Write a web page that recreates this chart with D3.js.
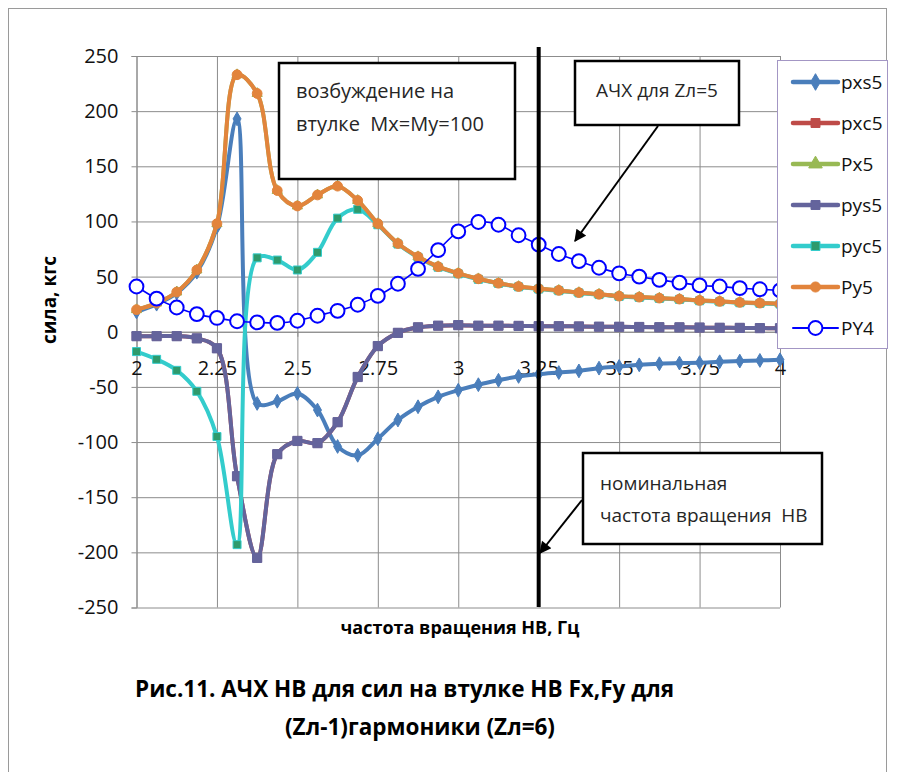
<!DOCTYPE html>
<html>
<head>
<meta charset="utf-8">
<script src="https://cdn.jsdelivr.net/npm/d3@7"></script>
<style>
    body { margin: 0; background: #fff; }
    text { font-family: "Open Sans", "Noto Sans", sans-serif; }
</style>
</head>
<body>
<div id="chart-area"></div>
<script>

// frequency grid, Hz
const freqs = [2, 2.0625, 2.125, 2.1875, 2.25, 2.3125, 2.375, 2.4375, 2.5, 2.5625, 2.625, 2.6875,
    2.75, 2.8125, 2.875, 2.9375, 3, 3.0625, 3.125, 3.1875, 3.25, 3.3125, 3.375, 3.4375,
    3.5, 3.5625, 3.625, 3.6875, 3.75, 3.8125, 3.875, 3.9375, 4];

// series values, kgf
const pxs5 = [18, 25, 35, 54, 95, 193, -65, -63, -56, -71, -104, -112, -97, -80, -68, -59, -53,
    -48, -44, -40.5, -38.5, -37, -35.5, -33, -31.5, -30, -29, -28.4, -28, -27.2, -26.6, -26, -25.4];
const pxc5 = [-4, -4, -4, -6, -15, -131, -205, -111, -99, -101, -82, -41, -13, -1, 4, 5.5, 6,
    5.5, 5.5, 5.3, 5, 5, 4.8, 4.6, 4.5, 4.3, 4.1, 4, 3.8, 3.6, 3.5, 3.3, 3.2];
const Px5 = [20, 26, 36, 56, 98, 233, 216, 128, 114, 124, 132, 119, 98, 80, 68, 59, 53,
    48, 44, 41, 39, 37.5, 35.5, 34, 32.3, 31.4, 30.5, 29.6, 28.4, 27.5, 26.6, 26, 25.4];
const pys5 = [-4, -4, -4, -6, -15, -131, -205, -111, -99, -101, -82, -41, -13, -1, 4, 5.5, 6,
    5.5, 5.5, 5.3, 5, 5, 4.8, 4.6, 4.5, 4.3, 4.1, 4, 3.8, 3.6, 3.5, 3.3, 3.2];
const pyc5 = [-18, -25, -35, -54, -95, -193, 67, 65, 56, 72, 103, 111, 97, 79.5, 67.5, 58.5, 52.5,
    47.5, 43.8, 40.7, 38.7, 37.2, 35.2, 33.7, 32, 31.1, 30.2, 29.3, 28.1, 27.2, 26.3, 25.7, 25.1];
const Py5 = [20, 26, 36, 56, 98, 233, 216, 128, 114, 124, 132, 119, 98, 80, 68, 59, 53,
    48, 44, 41, 39, 37.5, 35.5, 34, 32.3, 31.4, 30.5, 29.6, 28.4, 27.5, 26.6, 26, 25.4];
const PY4 = [41, 30, 22, 16, 12.5, 9.5, 8.5, 8, 10, 14.5, 19, 24.5, 32.5, 43.5, 57, 74, 91,
    99.5, 97, 87.5, 79, 70.5, 64, 58, 53, 50, 47, 44.5, 42, 41, 39.5, 38.5, 37.5];

const seriesNames = ["pxs5", "pxc5", "Px5", "pys5", "pyc5", "Py5", "PY4"];
const seriesValues = [pxs5, pxc5, Px5, pys5, pyc5, Py5, PY4];

// ticks
const xTicks = [2, 2.25, 2.5, 2.75, 3, 3.25, 3.5, 3.75, 4];
const xTickLabels = ["2", "2.25", "2.5", "2.75", "3", "3.25", "3.5", "3.75", "4"];
const yTicks = [250, 200, 150, 100, 50, 0, -50, -100, -150, -200, -250];

// nominal rotor speed marker
const nominalFreq = 3.25;


class ResponseVis {

    constructor(parentElement) {
        this.parentElement = parentElement;

        // look of each series (Excel-like)
        this.styles = {
            pxs5: {color: "#4a7ebb", fill: "#4a7ebb", stroke: "#4a7ebb", symbol: d3.symbolDiamond, size: 55, width: 4},
            pxc5: {color: "#be4b48", fill: "#be4b48", stroke: "#be4b48", symbol: d3.symbolSquare, size: 70, width: 4},
            Px5:  {color: "#98b954", fill: "#98b954", stroke: "#98b954", symbol: d3.symbolTriangle, size: 45, width: 4},
            pys5: {color: "#64649c", fill: "#64649c", stroke: "#64649c", symbol: d3.symbolSquare, size: 85, width: 4},
            pyc5: {color: "#33cccc", fill: "#2e9a6c", stroke: "#33cccc", symbol: d3.symbolSquare, size: 64, width: 4},
            Py5:  {color: "#e2843c", fill: "#e2843c", stroke: "#e2843c", symbol: d3.symbolCircle, size: 75, width: 4},
            PY4:  {color: "#0000ff", fill: "#ffffff", stroke: "#0000ff", symbol: d3.symbolCircle, size: 150, width: 1.6}
        };

        this.initVis();
    }

    initVis() {
        let vis = this;

        vis.width = 901;
        vis.height = 772;

        vis.svg = d3.select("#" + vis.parentElement).append("svg")
            .attr("width", vis.width)
            .attr("height", vis.height);

        // chart frame
        vis.svg.append("rect")
            .attr("x", 8.5).attr("y", 8.5)
            .attr("width", 878).attr("height", 800)
            .attr("fill", "#fff")
            .attr("stroke", "#9a9a9a");

        // init scales
        vis.x = d3.scaleLinear().domain([2, 4]).range([136.5, 780]);
        vis.y = d3.scaleLinear().domain([-250, 250]).range([607.5, 56]);

        let plotW = vis.x.range()[1] - vis.x.range()[0];
        let plotH = vis.y.range()[0] - vis.y.range()[1];

        // gridlines
        vis.svg.append("g")
            .attr("class", "grid")
            .attr("transform", `translate(${vis.x(2)},0)`)
            .call(d3.axisLeft(vis.y).tickValues(yTicks).tickSize(-plotW).tickFormat(""))
            .call(g => g.select(".domain").remove());
        vis.svg.append("g")
            .attr("class", "grid")
            .attr("transform", `translate(0,${vis.y(-250)})`)
            .call(d3.axisBottom(vis.x).tickValues(xTicks).tickSize(-plotH).tickFormat(""))
            .call(g => g.select(".domain").remove());
        vis.svg.selectAll(".grid line").attr("stroke", "#8c8c8c").attr("stroke-width", 1);

        // y axis
        vis.yAxis = vis.svg.append("g")
            .attr("class", "axis axis--y")
            .attr("transform", `translate(${vis.x(2)},0)`)
            .call(d3.axisLeft(vis.y).tickValues(yTicks).tickSize(5).tickPadding(13).tickFormat(d => String(d)));

        // x axis crosses at zero
        vis.xAxis = vis.svg.append("g")
            .attr("class", "axis axis--x")
            .attr("transform", `translate(0,${vis.y(0)})`)
            .call(d3.axisBottom(vis.x).tickValues(xTicks).tickSize(5).tickPadding(24)
                .tickFormat((d, i) => xTickLabels[i]));

        vis.svg.selectAll(".axis .domain").attr("stroke", "#8c8c8c");
        vis.svg.selectAll(".axis line").attr("stroke", "#8c8c8c");
        vis.svg.selectAll(".axis text")
            .attr("font-size", 20)
            .attr("fill", "#111")
            .style("font-family", "Open Sans");

        // axis titles
        vis.svg.append("text")
            .attr("transform", "translate(56,300) rotate(-90)")
            .attr("text-anchor", "middle")
            .attr("font-size", 19)
            .attr("font-weight", "bold")
            .text("сила, кгс");

        vis.svg.append("text")
            .attr("x", 460).attr("y", 634)
            .attr("text-anchor", "middle")
            .attr("font-size", 18)
            .attr("font-weight", "bold")
            .text("частота вращения НВ, Гц");

        // line generator (smoothed like Excel)
        vis.line = d3.line()
            .x((d, i) => vis.x(freqs[i]))
            .y(d => vis.y(d))
            .curve(d3.curveCatmullRom);

        vis.seriesGroup = vis.svg.append("g").attr("class", "series");

        // nominal frequency line
        vis.svg.append("line")
            .attr("x1", vis.x(nominalFreq)).attr("x2", vis.x(nominalFreq))
            .attr("y1", 47).attr("y2", 607)
            .attr("stroke", "#000")
            .attr("stroke-width", 4);

        // arrow head
        vis.svg.append("defs").append("marker")
            .attr("id", "arrow")
            .attr("viewBox", "0 0 10 10")
            .attr("refX", 9).attr("refY", 5)
            .attr("markerWidth", 7).attr("markerHeight", 6)
            .attr("markerUnits", "strokeWidth")
            .attr("orient", "auto")
            .append("path")
            .attr("d", "M0,0 L10,5 L0,10 z")
            .attr("fill", "#000");

        vis.annotGroup = vis.svg.append("g").attr("class", "annotations");
        vis.legendGroup = vis.svg.append("g").attr("class", "legend");

        vis.updateVis();
    }

    updateVis() {
        let vis = this;

        // draw each series: line + markers
        seriesNames.forEach((name, k) => {
            let st = vis.styles[name];
            let values = seriesValues[k];
            let g = vis.seriesGroup.append("g").attr("class", "s-" + name);

            g.append("path")
                .datum(values)
                .attr("d", vis.line)
                .attr("fill", "none")
                .attr("stroke", st.color)
                .attr("stroke-width", st.width)
                .attr("stroke-linejoin", "round");

            g.selectAll(".pt")
                .data(values)
                .enter()
                .append("path")
                .attr("class", "pt")
                .attr("transform", (d, i) => `translate(${vis.x(freqs[i])},${vis.y(d)})`)
                .attr("d", d3.symbol().type(st.symbol).size(st.size))
                .attr("fill", st.fill)
                .attr("stroke", st.stroke)
                .attr("stroke-width", name === "PY4" ? 2 : 1);
        });

        // annotation boxes
        let boxes = [
            {x: 279, y: 63, w: 236, h: 116, lines: ["возбуждение на", "втулке  Mx=My=100"], tx: 296, ty: [98, 131], anchor: "start", size: 20},
            {x: 575, y: 61, w: 164, h: 64, lines: ["АЧХ для Zл=5"], tx: 657, ty: [97], anchor: "middle", size: 19},
            {x: 583, y: 453, w: 239, h: 91, lines: ["номинальная", "частота вращения  НВ"], tx: 600, ty: [490, 522], anchor: "start", size: 19}
        ];

        vis.annotGroup.selectAll(".box")
            .data(boxes)
            .enter()
            .append("rect")
            .attr("class", "box")
            .attr("x", d => d.x).attr("y", d => d.y)
            .attr("width", d => d.w).attr("height", d => d.h)
            .attr("fill", "#fff")
            .attr("stroke", "#000")
            .attr("stroke-width", 2.5);

        boxes.forEach(b => {
            b.lines.forEach((t, j) => {
                vis.annotGroup.append("text")
                    .attr("x", b.tx).attr("y", b.ty[j])
                    .attr("text-anchor", b.anchor)
                    .attr("font-size", b.size)
                    .attr("fill", "#262626")
                    .style("white-space", "pre")
                    .text(t);
            });
        });

        // arrows
        let arrows = [[658, 126, 575, 241], [582, 500, 540, 553]];
        vis.annotGroup.selectAll(".arrow")
            .data(arrows)
            .enter()
            .append("line")
            .attr("class", "arrow")
            .attr("x1", d => d[0]).attr("y1", d => d[1])
            .attr("x2", d => d[2]).attr("y2", d => d[3])
            .attr("stroke", "#000")
            .attr("stroke-width", 2)
            .attr("marker-end", "url(#arrow)");

        // legend
        vis.legendGroup.append("rect")
            .attr("x", 777.5).attr("y", 60.5)
            .attr("width", 110).attr("height", 288)
            .attr("fill", "#fff")
            .attr("stroke", "#a396c4");

        let item = vis.legendGroup.selectAll(".item")
            .data(seriesNames)
            .enter()
            .append("g")
            .attr("class", "item")
            .attr("transform", (d, i) => `translate(0,${82 + i * 41})`);

        item.append("line")
            .attr("x1", 793).attr("x2", 838)
            .attr("stroke", d => vis.styles[d].color)
            .attr("stroke-width", d => d === "PY4" ? 2 : 4.5)
            .attr("stroke-linecap", "round");

        item.append("path")
            .attr("transform", "translate(815.5,0)")
            .attr("d", d => d3.symbol().type(vis.styles[d].symbol).size(d === "PY4" ? 150 : 80)())
            .attr("fill", d => vis.styles[d].fill)
            .attr("stroke", d => vis.styles[d].stroke)
            .attr("stroke-width", d => d === "PY4" ? 2 : 1);

        item.append("text")
            .attr("x", 841).attr("y", 7)
            .attr("font-size", 19)
            .attr("fill", "#111")
            .text(d => d);

        // caption
        vis.svg.append("text")
            .attr("x", 135).attr("y", 697)
            .attr("font-size", 22.5)
            .attr("font-weight", "bold")
            .text("Рис.11. АЧХ НВ для сил на втулке НВ Fx,Fy для");
        vis.svg.append("text")
            .attr("x", 420).attr("y", 735)
            .attr("text-anchor", "middle")
            .attr("font-size", 22.5)
            .attr("font-weight", "bold")
            .text("(Zл-1)гармоники (Zл=6)");
    }
}

let myVis = new ResponseVis("chart-area");

</script>
</body>
</html>
